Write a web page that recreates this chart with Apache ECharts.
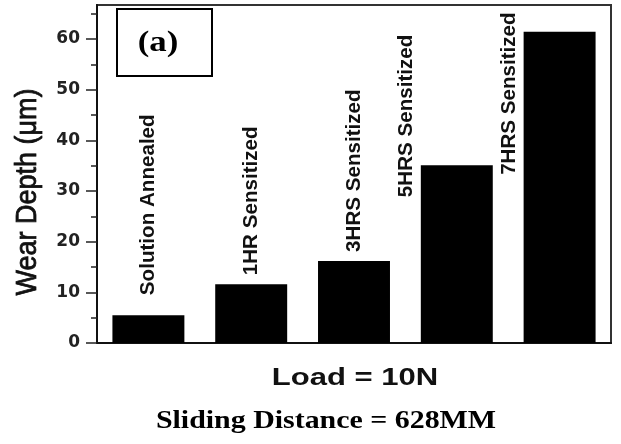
<!DOCTYPE html>
<html><head><meta charset="utf-8">
<script src="https://cdn.jsdelivr.net/npm/echarts@6/dist/echarts.min.js"></script>
<style>html,body{margin:0;padding:0;background:#fff}#c{width:621px;height:444px}</style>
</head><body><div id="c"></div>
<script>
const categories = ['Solution Annealed', '1HR Sensitized', '3HRS Sensitized', '5HRS Sensitized', '7HRS Sensitized'];
const wearDepth = [5.5, 11.6, 16.2, 35.1, 61.4];
const yMajorTicks = [0, 10, 20, 30, 40, 50, 60];
const yMinorTicks = [5, 15, 25, 35, 45, 55, 65];
const yAxisTitle = 'Wear Depth (\u03bcm)';
const xAxisTitle = 'Load = 10N';
const subTitle = 'Sliding Distance = 628MM';
const panelTag = '(a)';

// label placement (style): position relative to each bar's rectangle
const labelPos = [['50%', -20], ['50%', -9], ['50%', -9], [-15, 32], [-14, 143]];

const chart = echarts.init(document.getElementById('c'), null, {renderer: 'canvas'});
const yMax = 66.7;
chart.setOption({
  animation: false,
  backgroundColor: '#fff',
  grid: {left: 97, right: 10, top: 5, bottom: 101, show: true, borderColor: '#333', borderWidth: 2, backgroundColor: 'transparent'},
  xAxis: {
    type: 'category', data: categories,
    axisLine: {show: true, lineStyle: {color: '#111', width: 2}},
    axisTick: {show: false}, axisLabel: {show: false}, splitLine: {show: false}
  },
  yAxis: [{
    type: 'value', min: 0, max: yMax, position: 'left',
    axisLine: {show: true, lineStyle: {color: '#111', width: 2}},
    axisTick: {show: true, inside: false, length: 11, lineStyle: {color: '#222', width: 1.5}, customValues: yMajorTicks},
    axisLabel: {customValues: yMajorTicks, margin: 17, fontFamily: 'DejaVu Sans', fontWeight: 'bold', fontSize: 17, color: '#222'},
    splitLine: {show: false}
  }, {
    type: 'value', min: 0, max: yMax, position: 'left',
    axisLine: {show: false},
    axisTick: {show: true, inside: false, length: 6, lineStyle: {color: '#222', width: 1.5}, customValues: yMinorTicks},
    axisLabel: {show: false}, splitLine: {show: false}
  }],
  series: [{
    type: 'bar', yAxisIndex: 0,
    barWidth: '70%',
    itemStyle: {color: '#000'},
    data: wearDepth.map((v, i) => ({value: v, label: {position: labelPos[i]}})),
    label: {
      show: true, formatter: p => p.name, rotate: 90, align: 'left', verticalAlign: 'middle',
      fontFamily: 'Liberation Sans', fontWeight: 'bold', fontSize: 20.6, color: '#111'
    }
  }],
  graphic: [
    {type: 'rect', shape: {x: 117, y: 9, width: 95, height: 67}, style: {fill: '#fff', stroke: '#000', lineWidth: 2}, z: 10},
    {type: 'text', x: 158, y: 44, scaleX: 1.2, z: 11,
      style: {text: panelTag, font: 'bold 29px "Liberation Serif"', fill: '#000', align: 'center', verticalAlign: 'middle', textAlign: 'center', textVerticalAlign: 'middle'}},
    {type: 'text', x: 28, y: 192, rotation: Math.PI / 2, scaleY: 1.1, z: 11,
      style: {text: yAxisTitle, font: '27px "Liberation Sans"', fill: '#111', stroke: '#111', lineWidth: 0.7, align: 'center', verticalAlign: 'middle', textAlign: 'center', textVerticalAlign: 'middle'}},
    {type: 'text', x: 355, y: 379, scaleX: 1.35, z: 11,
      style: {text: xAxisTitle, font: 'bold 23px "Liberation Sans"', fill: '#111', align: 'center', verticalAlign: 'middle', textAlign: 'center', textVerticalAlign: 'middle'}},
    {type: 'text', x: 326, y: 421, scaleX: 1.15, z: 11,
      style: {text: subTitle, font: 'bold 26px "Liberation Serif"', fill: '#000', align: 'center', verticalAlign: 'middle', textAlign: 'center', textVerticalAlign: 'middle'}}
  ]
});
</script></body></html>
